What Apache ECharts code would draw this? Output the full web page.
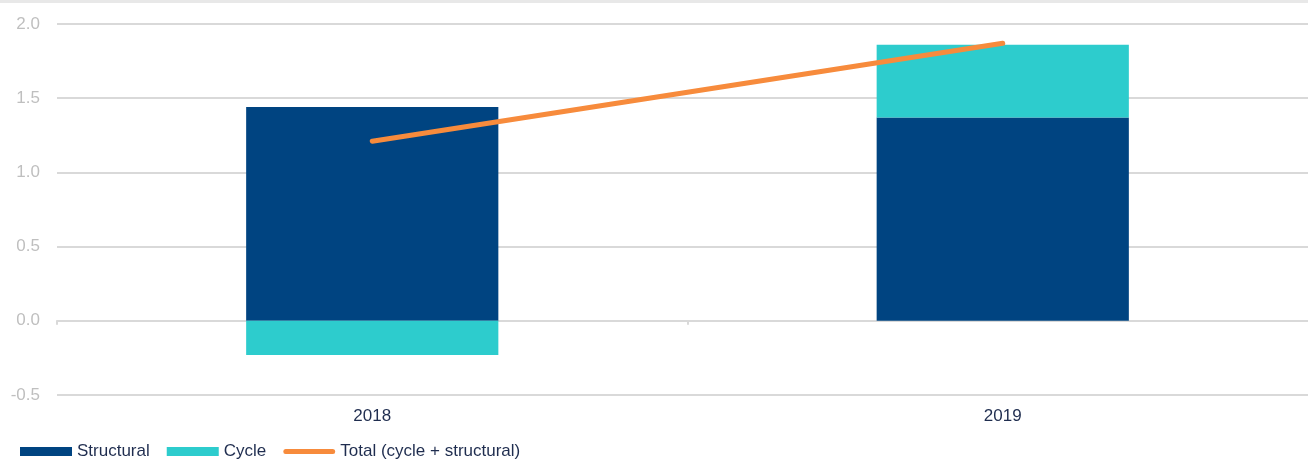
<!DOCTYPE html>
<html>
<head>
<meta charset="utf-8">
<script src="https://cdn.jsdelivr.net/npm/echarts@6/dist/echarts.min.js"></script>
<style>
  html, body { margin: 0; padding: 0; background: #fff; }
  #chart { width: 1308px; height: 461px; }
</style>
</head>
<body>
<div id="chart"></div>
<script>
// data
const years = ["2018", "2019"];
const structural = [1.44, 1.37];
const cycle = [-0.23, 0.49];
const total = [1.21, 1.87];
const yTicks = [-0.5, 0.0, 0.5, 1.0, 1.5, 2.0];

// capsule-shaped legend icon for the line, padded to the 52x9 box
const lineIcon =
  "path://M0,0L0.1,0L0,0.1Z M56,9L55.9,9L56,8.9Z " +
  "M2.5,2L53.5,2A2.5,2.5 0 0 1 53.5,7L2.5,7A2.5,2.5 0 0 1 2.5,2Z";

const chart = echarts.init(document.getElementById("chart"));

const option = {
  animation: false,
  textStyle: { fontFamily: "Liberation Sans, Arial, sans-serif" },
  graphic: [
    {
      type: "rect",
      left: 0,
      top: 0,
      shape: { width: 1308, height: 3 },
      style: { fill: "#e8e8e8" },
    },
  ],
  legend: {
    left: 15,
    top: 438,
    itemWidth: 52,
    itemHeight: 9,
    itemGap: 17,
    symbolKeepAspect: false,
    textStyle: { color: "#1f2d4f", fontSize: 17 },
    data: [
      { name: "Structural", icon: "rect" },
      { name: "Cycle", icon: "rect" },
      { name: "Total (cycle + structural)", icon: lineIcon, itemStyle: { color: "#f78b3c" } },
    ],
  },
  grid: { left: 57, width: 1261, top: 24, height: 371, outerBoundsMode: "none" },
  xAxis: [
    {
      // zero line with the category ticks
      type: "category",
      data: years,
      position: "bottom",
      axisLine: { show: true, onZero: true, lineStyle: { color: "#d9d9d9", width: 2 } },
      axisTick: { show: true, length: 4, lineStyle: { color: "#d9d9d9", width: 2 } },
      axisLabel: { show: false },
    },
    {
      // labels at the bottom
      type: "category",
      data: years,
      position: "bottom",
      axisLine: { show: false, onZero: false },
      axisTick: { show: false },
      axisLabel: { color: "#1f2d4f", fontSize: 17, margin: 13 },
    },
  ],
  yAxis: {
    type: "value",
    min: yTicks[0],
    max: yTicks[yTicks.length - 1],
    interval: 0.5,
    axisLine: { show: false },
    axisTick: { show: false },
    axisLabel: {
      color: "#bfbfbf",
      fontSize: 17,
      margin: 17,
      formatter: (v) => v.toFixed(1),
    },
    splitLine: { lineStyle: { color: "#d9d9d9", width: 2 } },
  },
  series: [
    {
      name: "Structural",
      type: "bar",
      stack: "a",
      barWidth: "40%",
      data: structural,
      itemStyle: { color: "#004481" },
    },
    {
      name: "Cycle",
      type: "bar",
      stack: "a",
      barWidth: "40%",
      data: cycle,
      itemStyle: { color: "#2dcccd" },
    },
    {
      name: "Total (cycle + structural)",
      type: "line",
      data: total,
      symbol: "none",
      lineStyle: { color: "#f78b3c", width: 5, cap: "round" },
      itemStyle: { color: "#f78b3c" },
      z: 5,
    },
  ],
};

chart.setOption(option);
</script>
</body>
</html>
